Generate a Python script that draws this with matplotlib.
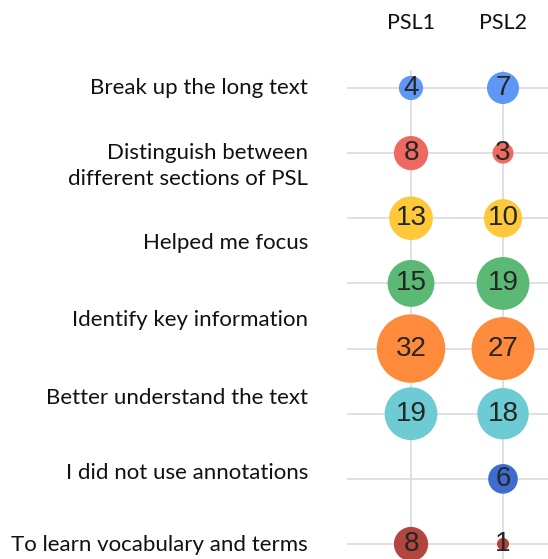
import matplotlib.pyplot as plt

# survey data: number of students per purpose, for each PSL text
columns = ['PSL1', 'PSL2']
psl1 = [4, 8, 13, 15, 32, 19, None, 8]
psl2 = [7, 3, 10, 19, 27, 18, 6, 1]
row_colors = ['#5e97f6', '#ee6a60', '#fdc93a', '#5cb975', '#fe8b3b',
              '#6ccbd3', '#3e6dcf', '#b3453f']

labels = ['Break up the long text',
          'Distinguish between\ndifferent sections of PSL',
          'Helped me focus',
          'Identify key information',
          'Better understand the text',
          'I did not use annotations',
          'To learn vocabulary and terms']
# label centres in pixels from the top (they do not line up with the rows)
label_y_px = [88, 166, 243, 320, 398, 473, 545]

W, H = 548, 559
fig = plt.figure(figsize=(W / 100, H / 100), dpi=100)
ax = fig.add_axes([347 / W, 0, 1 - 347 / W, (H - 70) / H])

n_rows = len(psl1)
scale = 76  # marker area (pt^2) per unit of value
for col, vals in enumerate([psl1, psl2]):
    for row, v in enumerate(vals):
        if v is None:
            continue
        ax.scatter(col, row, s=v * scale, color=row_colors[row],
                   edgecolors='none', zorder=3)
        ax.text(col, row, str(v), ha='center', va='center', fontsize=20,
                color='#262626', family='Liberation Sans', zorder=4)

for row in range(n_rows):
    ax.axhline(row, color='#dadada', lw=1.2, zorder=1)
for col in range(len(columns)):
    ax.axvline(col, color='#dadada', lw=1.2, zorder=1)

ax.set_xlim(-0.696, 1.489)
ax.set_ylim(7.23, -0.276)
ax.axis('off')

for col, name in enumerate(columns):
    x_fig = (411 + col * 92) / W
    fig.text(x_fig, 1 - 23 / H, name, ha='center', va='center',
             fontsize=15.5, family='Lato', color='#111111')

for lab, ypx in zip(labels, label_y_px):
    fig.text(308 / W, 1 - ypx / H, lab, ha='right', va='center',
             fontsize=16, family='Lato', color='#111111', linespacing=1.4)

fig.savefig('out.png', dpi=100)
